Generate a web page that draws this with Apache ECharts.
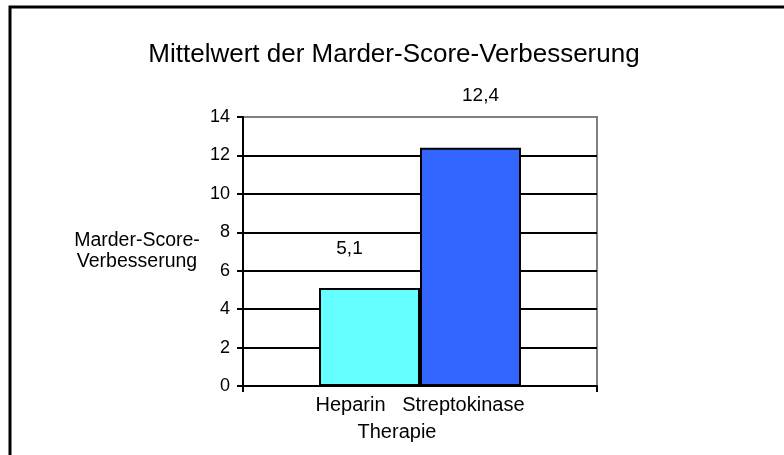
<!DOCTYPE html>
<html lang="de">
<head>
	<meta charset="utf-8">
	<title>Marder-Score</title>
	<script src="https://cdn.jsdelivr.net/npm/echarts@6/dist/echarts.min.js"></script>
	<style>
		html, body { margin: 0; padding: 0; background: #fff; }
		#chart { width: 784px; height: 455px; }
	</style>
</head>
<body>
<div id="chart"></div>
<script>
// Werte aus der Vorlage
var therapies = ['Heparin', 'Streptokinase'];
var improvements = [5.1, 12.4];
var barColors = ['#66FFFF', '#3366FF'];
var labelOffsets = [[-20, -25], [10, -37]];
var yMin = 0, yMax = 14, yStep = 2;

var font = 'Liberation Sans, Arial, sans-serif';

var series = therapies.map(function (name, i) {
	return {
		name: name,
		type: 'bar',
		barWidth: 101,
		barGap: '0%',
		data: [improvements[i]],
		itemStyle: { color: barColors[i], borderColor: '#000', borderWidth: 2 },
		label: {
			show: true,
			position: 'top',
			offset: labelOffsets[i],
			color: '#000',
			fontFamily: font,
			fontSize: 19,
			formatter: function (p) { return String(p.value).replace('.', ','); }
		},
		z: 3
	};
});

echarts.init(document.getElementById('chart')).setOption({
	animation: false,
	backgroundColor: '#fff',
	textStyle: { fontFamily: font },
	title: {
		text: 'Mittelwert der Marder-Score-Verbesserung',
		left: 389,
		textAlign: 'center',
		top: 37,
		textStyle: { fontFamily: font, fontSize: 26, fontWeight: 'normal', color: '#000' }
	},
	graphic: [{
		type: 'polyline',
		shape: { points: [[10, 455], [10, 7], [784, 7]] },
		style: { stroke: '#000', lineWidth: 3, fill: null }
	}],
	grid: {
		left: 243, right: 187, top: 117, bottom: 69,
		show: true, borderColor: '#808080', borderWidth: 2
	},
	xAxis: {
		type: 'category',
		data: [therapies.join('   ')],
		name: 'Therapie',
		nameLocation: 'middle',
		nameGap: 36,
		nameTextStyle: { fontFamily: font, fontSize: 20, color: '#000', padding: [0, 46, 0, 0] },
		axisLine: { lineStyle: { color: '#000', width: 2 } },
		axisTick: { show: true, length: 6, lineStyle: { color: '#000', width: 2 } },
		axisLabel: { margin: 9, fontFamily: font, fontSize: 20, color: '#000' }
	},
	yAxis: {
		type: 'value',
		min: yMin, max: yMax, interval: yStep,
		name: 'Marder-Score-\nVerbesserung',
		nameLocation: 'middle',
		nameRotate: 0,
		nameGap: 106,
		nameTextStyle: { fontFamily: font, fontSize: 19.5, color: '#000', align: 'center', verticalAlign: 'middle', lineHeight: 21 },
		axisLine: { show: true, lineStyle: { color: '#000', width: 2 } },
		axisTick: { show: true, length: 6, lineStyle: { color: '#000', width: 2 } },
		axisLabel: { margin: 13, fontFamily: font, fontSize: 18, color: '#000' },
		splitLine: {
			show: true,
			lineStyle: { color: ['#000', '#000', '#000', '#000', '#000', '#000', '#000', '#808080'], width: 2 }
		}
	},
	series: series
});
</script>
</body>
</html>
